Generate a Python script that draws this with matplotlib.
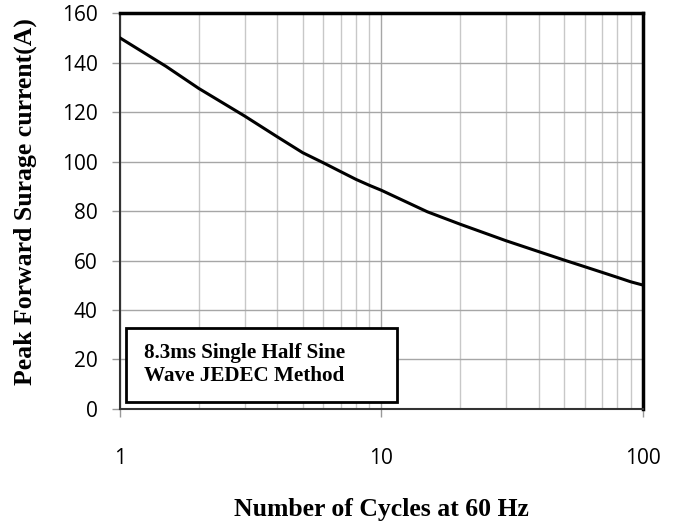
import matplotlib.pyplot as plt
from matplotlib.ticker import FixedLocator, NullFormatter

# values
cycles = [1, 1.5, 2, 3, 4, 5, 6, 7, 8, 9, 10, 15, 20, 30, 40, 50, 60, 70, 80, 90, 100]
current = [150, 138.5, 129.6, 118.4, 110, 103.6, 99.5, 95.9, 92.8, 90.4, 88.4,
           79.7, 74.7, 68, 63.6, 60.2, 57.5, 55.2, 53.2, 51.4, 50.1]

y_ticks = [0, 20, 40, 60, 80, 100, 120, 140, 160]
x_ticks = [1, 10, 100]
x_tick_labels = ['1', '10', '100']

box_text = "8.3ms Single Half Sine\nWave JEDEC Method"
x_label = "Number of Cycles at 60 Hz"
y_label = "Peak Forward Surage current(A)"

tick_font = 'Open Sans'
label_font = 'Liberation Serif'

fig = plt.figure(figsize=(6.78, 5.27), dpi=100)
ax = fig.add_axes([0.177, 0.224, 0.771, 0.751])

ax.plot(cycles, current, color='black', lw=2.2, zorder=3,
        solid_joinstyle='round')

ax.set_xscale('log')
ax.set_xlim(1, 100)
ax.set_ylim(0, 160)

ax.set_yticks(y_ticks)
ax.set_xticks(x_ticks)
ax.set_xticklabels(x_tick_labels)
minor = [m * d for d in (1, 10) for m in range(2, 10)]
ax.xaxis.set_minor_locator(FixedLocator(minor))
ax.xaxis.set_minor_formatter(NullFormatter())

ax.grid(which='major', axis='y', color='#a6a6a6', lw=1.0)
ax.grid(which='major', axis='x', color='#a6a6a6', lw=1.0)
ax.grid(which='minor', axis='x', color='#c8c8c8', lw=1.0)
ax.set_axisbelow(True)

for side in ('top', 'right'):
    ax.spines[side].set_linewidth(2.5)
    ax.spines[side].set_color('black')
ax.spines['left'].set_linewidth(1.5)
ax.spines['left'].set_color('#333333')
ax.spines['bottom'].set_linewidth(1.5)
ax.spines['bottom'].set_color('#333333')

ax.tick_params(axis='y', which='major', length=6, width=1, color='#999999',
               direction='out', pad=10, labelsize=15)
ax.tick_params(axis='x', which='major', length=6, width=1, color='#999999',
               direction='out', pad=22, labelsize=15)
ax.tick_params(axis='x', which='minor', length=0)
for lbl in ax.get_xticklabels() + ax.get_yticklabels():
    lbl.set_fontfamily(tick_font)

ax.set_xlabel(x_label, fontfamily=label_font, fontweight='bold', fontsize=18.5)
ax.set_ylabel(y_label, fontfamily=label_font, fontweight='bold', fontsize=18.5)
ax.xaxis.set_label_coords(0.5, -0.225)
ax.yaxis.set_label_coords(-0.158, 0.525)

ax.text(0.045, 0.113, box_text, transform=ax.transAxes, fontfamily=label_font,
        fontweight='bold', fontsize=15.2, va='center', ha='left', linespacing=1.2,
        zorder=5)
box = plt.Rectangle((0.012, 0.018), 0.518, 0.186, transform=ax.transAxes,
                    facecolor='white', edgecolor='black', lw=2, zorder=4)
ax.add_patch(box)

fig.savefig('out.png', dpi=100)
